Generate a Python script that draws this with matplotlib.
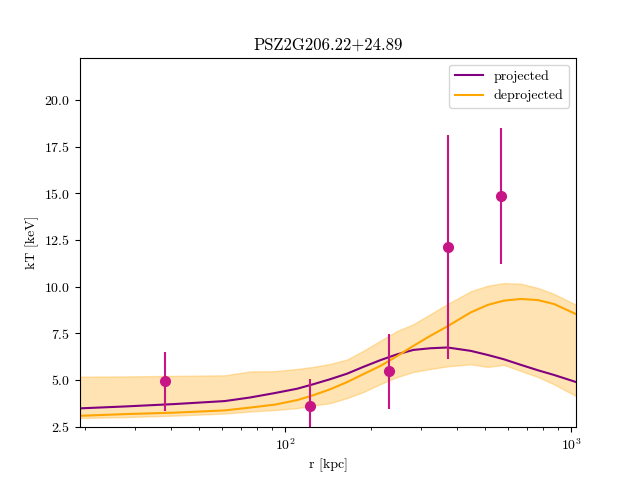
import matplotlib
matplotlib.use("Agg")
import matplotlib.pyplot as plt

plt.rcParams["font.family"] = "serif"
plt.rcParams["font.serif"] = ["cmr10"]
plt.rcParams["mathtext.fontset"] = "cm"
plt.rcParams["axes.formatter.use_mathtext"] = True

# model curves sampled along r [kpc]
r_model = [19.2, 27.5, 41.1, 61.6, 75.4, 92.2, 110.2, 125.4, 143.8, 165.0, 187.8, 215.4,
           247.2, 281.3, 322.7, 370.2, 445.9, 511.5, 582.1, 667.7, 766.1, 871.7, 1041]
kt_proj = [3.48, 3.58, 3.71, 3.87, 4.06, 4.30, 4.53, 4.77, 5.04, 5.34, 5.70, 6.06,
           6.38, 6.61, 6.70, 6.74, 6.56, 6.34, 6.11, 5.81, 5.52, 5.27, 4.89]
kt_deproj = [3.08, 3.17, 3.25, 3.37, 3.52, 3.68, 3.92, 4.18, 4.50, 4.89, 5.31, 5.75,
             6.29, 6.83, 7.37, 7.88, 8.62, 9.02, 9.25, 9.34, 9.28, 9.07, 8.53]
kt_deproj_hi = [5.18, 5.19, 5.22, 5.25, 5.46, 5.47, 5.59, 5.70, 5.86, 6.10, 6.56, 7.10,
                7.63, 7.99, 8.53, 9.07, 9.75, 10.05, 10.19, 10.16, 9.93, 9.61, 9.03]
kt_deproj_lo = [2.96, 3.01, 3.09, 3.20, 3.31, 3.39, 3.49, 3.63, 3.76, 4.03, 4.35, 4.78,
                5.16, 5.43, 5.59, 5.73, 5.84, 5.70, 5.81, 5.48, 5.16, 4.77, 4.14]

# measured spectral temperatures
r_obs = [38.2, 122.4, 231.6, 370.0, 568.0]
kt_obs = [4.95, 3.60, 5.48, 12.10, 14.84]
kt_err_lo = [1.60, 1.60, 2.04, 5.97, 3.64]
kt_err_hi = [1.55, 1.45, 1.99, 6.00, 3.66]

fig, ax = plt.subplots(figsize=(6.4, 4.8), dpi=100)

ax.fill_between(r_model, kt_deproj_lo, kt_deproj_hi, color="orange", alpha=0.3)
ax.plot(r_model, kt_proj, color="purple", lw=1.5, label="projected")
ax.plot(r_model, kt_deproj, color="orange", lw=1.5, label="deprojected")
ax.errorbar(r_obs, kt_obs, yerr=[kt_err_lo, kt_err_hi], fmt="o",
            color="mediumvioletred", ms=7, elinewidth=1.5)

ax.set_xscale("log")
ax.set_xlim(19.2, 1041)
ax.set_ylim(2.47, 22.27)
ax.set_xlabel("r [kpc]")
ax.set_ylabel("kT [keV]")
ax.set_title("PSZ2G206.22+24.89")
ax.legend(loc="upper right")

plt.savefig("out.png")
plt.close()
